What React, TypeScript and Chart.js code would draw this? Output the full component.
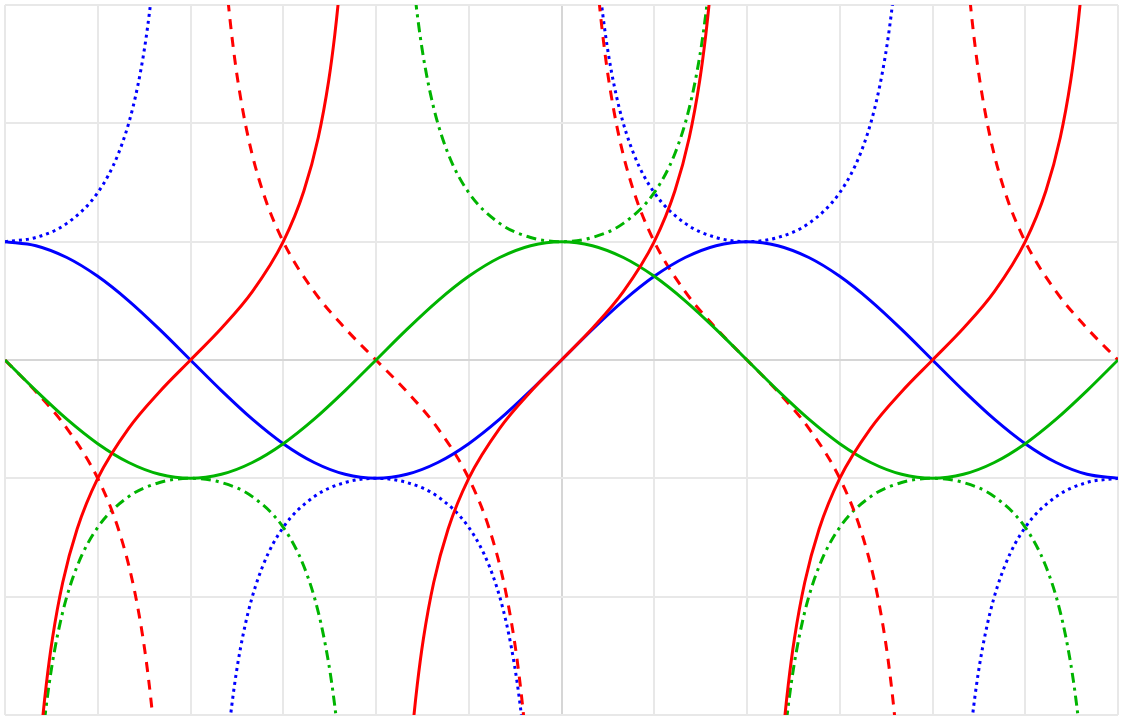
import React, { useEffect, useRef } from "react";
import { Chart, registerables } from "chart.js";

Chart.register(...registerables);

// x in degrees
const xSinCos = [
  -270, -255, -240, -225, -210, -195, -180, -165, -150, -135, -120, -105, -90, -75, -60, -45, -30, -15,
  0, 15, 30, 45, 60, 75, 90, 105, 120, 135, 150, 165, 180, 195, 210, 225, 240, 255, 270,
];
const ySin = [
  1, 0.9659, 0.866, 0.7071, 0.5, 0.2588, 0, -0.2588, -0.5, -0.7071, -0.866, -0.9659, -1, -0.9659, -0.866, -0.7071, -0.5, -0.2588,
  0, 0.2588, 0.5, 0.7071, 0.866, 0.9659, 1, 0.9659, 0.866, 0.7071, 0.5, 0.2588, 0, -0.2588, -0.5, -0.7071, -0.866, -0.9659, -1,
];
const yCos = [
  0, -0.2588, -0.5, -0.7071, -0.866, -0.9659, -1, -0.9659, -0.866, -0.7071, -0.5, -0.2588, 0, 0.2588, 0.5, 0.7071, 0.866, 0.9659,
  1, 0.9659, 0.866, 0.7071, 0.5, 0.2588, 0, -0.2588, -0.5, -0.7071, -0.866, -0.9659, -1, -0.9659, -0.866, -0.7071, -0.5, -0.2588, 0,
];

const xTanSec = [
  -254, -252, -250, -247, -242, -235, -225, -210, -195, -180, -165, -150, -135, -125, -118, -113, -110, -108, -106,
  -90,
  -74, -72, -70, -67, -62, -55, -45, -30, -15, 0, 15, 30, 45, 55, 62, 67, 70, 72, 74,
  90,
  106, 108, 110, 113, 118, 125, 135, 150, 165, 180, 195, 210, 225, 235, 242, 247, 250, 252, 254,
];
const yTan = [
  -3.4874, -3.0777, -2.7475, -2.3559, -1.8807, -1.4281, -1, -0.5774, -0.2679, 0, 0.2679, 0.5774, 1, 1.4281, 1.8807, 2.3559, 2.7475, 3.0777, 3.4874,
  null,
  -3.4874, -3.0777, -2.7475, -2.3559, -1.8807, -1.4281, -1, -0.5774, -0.2679, 0, 0.2679, 0.5774, 1, 1.4281, 1.8807, 2.3559, 2.7475, 3.0777, 3.4874,
  null,
  -3.4874, -3.0777, -2.7475, -2.3559, -1.8807, -1.4281, -1, -0.5774, -0.2679, 0, 0.2679, 0.5774, 1, 1.4281, 1.8807, 2.3559, 2.7475, 3.0777, 3.4874,
];
const ySec = [
  -3.628, -3.2361, -2.9238, -2.5593, -2.1301, -1.7434, -1.4142, -1.1547, -1.0353, -1, -1.0353, -1.1547, -1.4142, -1.7434, -2.1301, -2.5593, -2.9238, -3.2361, -3.628,
  null,
  3.628, 3.2361, 2.9238, 2.5593, 2.1301, 1.7434, 1.4142, 1.1547, 1.0353, 1, 1.0353, 1.1547, 1.4142, 1.7434, 2.1301, 2.5593, 2.9238, 3.2361, 3.628,
  null,
  -3.628, -3.2361, -2.9238, -2.5593, -2.1301, -1.7434, -1.4142, -1.1547, -1.0353, -1, -1.0353, -1.1547, -1.4142, -1.7434, -2.1301, -2.5593, -2.9238, -3.2361, -3.628,
];

const xCotCsc = [
  -270, -255, -240, -225, -215, -208, -203, -200, -198, -196,
  -180,
  -164, -162, -160, -157, -152, -145, -135, -120, -105, -90, -75, -60, -45, -35, -28, -23, -20, -18, -16,
  0,
  16, 18, 20, 23, 28, 35, 45, 60, 75, 90, 105, 120, 135, 145, 152, 157, 160, 162, 164,
  180,
  196, 198, 200, 203, 208, 215, 225, 240, 255, 270,
];
const yCot = [
  0, -0.2679, -0.5774, -1, -1.4281, -1.8807, -2.3559, -2.7475, -3.0777, -3.4874,
  null,
  3.4874, 3.0777, 2.7475, 2.3559, 1.8807, 1.4281, 1, 0.5774, 0.2679, 0, -0.2679, -0.5774, -1, -1.4281, -1.8807, -2.3559, -2.7475, -3.0777, -3.4874,
  null,
  3.4874, 3.0777, 2.7475, 2.3559, 1.8807, 1.4281, 1, 0.5774, 0.2679, 0, -0.2679, -0.5774, -1, -1.4281, -1.8807, -2.3559, -2.7475, -3.0777, -3.4874,
  null,
  3.4874, 3.0777, 2.7475, 2.3559, 1.8807, 1.4281, 1, 0.5774, 0.2679, 0,
];
const yCsc = [
  1, 1.0353, 1.1547, 1.4142, 1.7434, 2.1301, 2.5593, 2.9238, 3.2361, 3.628,
  null,
  -3.628, -3.2361, -2.9238, -2.5593, -2.1301, -1.7434, -1.4142, -1.1547, -1.0353, -1, -1.0353, -1.1547, -1.4142, -1.7434, -2.1301, -2.5593, -2.9238, -3.2361, -3.628,
  null,
  3.628, 3.2361, 2.9238, 2.5593, 2.1301, 1.7434, 1.4142, 1.1547, 1.0353, 1, 1.0353, 1.1547, 1.4142, 1.7434, 2.1301, 2.5593, 2.9238, 3.2361, 3.628,
  null,
  -3.628, -3.2361, -2.9238, -2.5593, -2.1301, -1.7434, -1.4142, -1.1547, -1.0353, -1,
];

const X_MIN = -270;
const X_MAX = 270;
const X_STEP = 45;
const Y_MIN = -3;
const Y_MAX = 3;
const Y_STEP = 1;

const BLUE = "#0000ff";
const GREEN = "#00b400";
const RED = "#ff0000";

function zip(xs: number[], ys: (number | null)[]) {
  return xs.map((x, i) => ({ x, y: ys[i] }));
}

export default function App() {
  const ref = useRef<HTMLCanvasElement | null>(null);
  useEffect(() => {
    if (!ref.current) return;
    const common = {
      pointRadius: 0,
      borderWidth: 3,
      fill: false,
      spanGaps: false,
      cubicInterpolationMode: "monotone" as const,
    };
    const chart = new Chart(ref.current, {
      type: "line",
      data: {
        datasets: [
          { ...common, label: "tan", data: zip(xTanSec, yTan), borderColor: RED, order: 0 },
          { ...common, label: "cos", data: zip(xSinCos, yCos), borderColor: GREEN, order: 1 },
          { ...common, label: "sin", data: zip(xSinCos, ySin), borderColor: BLUE, order: 2 },
          { ...common, label: "cot", data: zip(xCotCsc, yCot), borderColor: RED, borderDash: [10, 8], order: 3 },
          { ...common, label: "sec", data: zip(xTanSec, ySec), borderColor: GREEN, borderDash: [10, 5, 3, 5], order: 4 },
          { ...common, label: "csc", data: zip(xCotCsc, yCsc), borderColor: BLUE, borderDash: [3, 4], order: 5 },
        ] as any,
      },
      options: {
        animation: false,
        responsive: true,
        maintainAspectRatio: false,
        layout: { padding: { left: 5, top: 5, right: 7, bottom: 6 } },
        plugins: { legend: { display: false }, tooltip: { enabled: false } },
        events: [],
        scales: {
          x: {
            type: "linear",
            min: X_MIN,
            max: X_MAX,
            ticks: { display: false, stepSize: X_STEP, autoSkip: false },
            border: { display: false },
            grid: {
              drawTicks: false,
              lineWidth: 2,
              color: (c: any) => (c.tick && c.tick.value === 0 ? "#d6d6d6" : "#e8e8e8"),
            },
          },
          y: {
            type: "linear",
            min: Y_MIN,
            max: Y_MAX,
            ticks: { display: false, stepSize: Y_STEP, autoSkip: false },
            border: { display: false },
            grid: {
              drawTicks: false,
              lineWidth: 2,
              color: (c: any) => (c.tick && c.tick.value === 0 ? "#d6d6d6" : "#e8e8e8"),
            },
          },
        },
      },
    });
    return () => chart.destroy();
  }, []);
  return (
    <div style={{ position: "fixed", left: 0, top: 0, width: 1125, height: 721, background: "#fff" }}>
      <canvas ref={ref} />
    </div>
  );
}
